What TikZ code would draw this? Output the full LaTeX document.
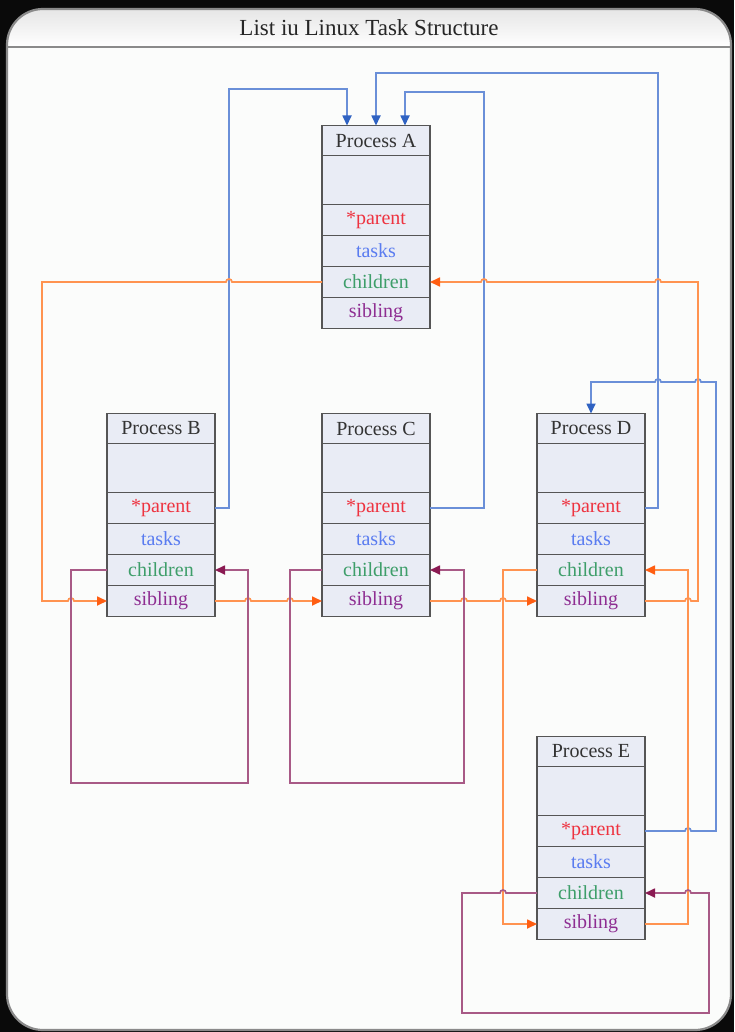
\documentclass[tikz,border=0pt]{standalone}
\usepackage{fontspec}
\setmainfont{Liberation Serif}
\usetikzlibrary{arrows.meta}
\definecolor{bgblack}{HTML}{0A0A0A}
\definecolor{framefill}{HTML}{FBFCFB}
\definecolor{framedraw}{HTML}{8A8A8A}
\definecolor{cellfill}{HTML}{E9ECF5}
\definecolor{celldraw}{HTML}{555555}
\definecolor{cparent}{HTML}{EE3340}
\definecolor{ctasks}{HTML}{5A7CF0}
\definecolor{cchild}{HTML}{3E9E6A}
\definecolor{csib}{HTML}{8E2E92}
\definecolor{lblue}{HTML}{6A8FD8}
\definecolor{ablue}{HTML}{2F62C2}
\definecolor{lorange}{HTML}{FF9350}
\definecolor{aorange}{HTML}{FF5E12}
\definecolor{lpurple}{HTML}{A85A86}
\definecolor{apurple}{HTML}{8A1A52}
\newcommand\procbox[4]{%
  \node[titlecell] (#1) at (#2,#3) {#4};
  \node[blankcell] (#1b) at (#1.south) {};
  \node[cell,text=cparent] (#1p) at (#1b.south) {*parent};
  \node[cell,text=ctasks] (#1t) at (#1p.south) {tasks};
  \node[cell,text=cchild] (#1c) at (#1t.south) {children};
  \node[cell,text=csib] (#1s) at (#1c.south) {sibling};
}
\begin{document}
\begin{tikzpicture}[x=1pt,y=-1pt,
  cell/.style={draw=celldraw,line width=1.8pt,fill=cellfill,minimum width=108pt,
    minimum height=31pt,inner sep=0pt,outer sep=0pt,anchor=north,
    font=\fontsize{20}{21}\selectfont},
  titlecell/.style={cell,minimum height=30pt,text=black!80},
  blankcell/.style={cell,minimum height=49pt},
  bline/.style={draw=lblue,line width=1.7pt,-{Triangle[length=10pt,width=9pt,color=ablue]}},
  oline/.style={draw=lorange,line width=1.7pt,-{Triangle[length=10pt,width=9pt,color=aorange]}},
  pline/.style={draw=lpurple,line width=1.7pt,-{Triangle[length=10pt,width=9pt,color=apurple]}},
]
\useasboundingbox (0,0) rectangle (734,1032);
\fill[bgblack] (0,0) rectangle (734,1032);
\fill[framefill,rounded corners=36pt] (7,9) rectangle (731,1030);
\begin{scope}
  \clip[rounded corners=36pt] (7,9) rectangle (731,1030);
  \shade[top color=black!10,bottom color=white] (7,9) rectangle (731,47);
\end{scope}
\draw[framedraw,line width=2.2pt] (7,47) -- (731,47);
\draw[framedraw,line width=2.2pt,rounded corners=36pt] (7,9) rectangle (731,1030);
\node[font=\fontsize{23}{24}\selectfont,text=black!85] (title) at (369,28) {List iu Linux Task Structure};

\procbox{A}{376}{125.5}{Process A}
\procbox{B}{161}{413.5}{Process B}
\procbox{C}{376}{413.5}{Process C}
\procbox{D}{591}{413.5}{Process D}
\procbox{E}{591}{736.5}{Process E}

% parent pointers
\draw[bline] (Bp.east) -- (229,508) -- (229,89) -- (347,89) -- ([xshift=-29pt]A.north);
\draw[bline] (Cp.east) -- (484,508) -- (484,92) -- (405,92) -- ([xshift=29pt]A.north);
\draw[bline] (Dp.east) -- (658,508) -- (658,73) -- (376,73) -- (A.north);
\draw[bline] (Ep.east) -- (685,831) arc[start angle=180,end angle=0,radius=3pt] -- (716,831)
  -- (716,382) -- (701,382) arc[start angle=0,end angle=180,radius=3pt]
  -- (661,382) arc[start angle=0,end angle=180,radius=3pt] -- (591,382) -- (D.north);

% children / sibling lists
\draw[oline] (Ac.west) -- (232,282) arc[start angle=0,end angle=180,radius=3pt] -- (42,282)
  -- (42,601) -- (68,601) arc[start angle=180,end angle=0,radius=3pt] -- (Bs.west);
\draw[oline] (Bs.east) -- (245,601) arc[start angle=180,end angle=0,radius=3pt]
  -- (287,601) arc[start angle=180,end angle=0,radius=3pt] -- (Cs.west);
\draw[oline] (Cs.east) -- (461,601) arc[start angle=180,end angle=0,radius=3pt]
  -- (500,601) arc[start angle=180,end angle=0,radius=3pt] -- (Ds.west);
\draw[oline] (Ds.east) -- (685,601) arc[start angle=180,end angle=0,radius=3pt] -- (698,601)
  -- (698,282) -- (661,282) arc[start angle=0,end angle=180,radius=3pt]
  -- (487,282) arc[start angle=0,end angle=180,radius=3pt] -- (Ac.east);
\draw[oline] (Dc.west) -- (503,570) -- (503,924) -- (Es.west);
\draw[oline] (Es.east) -- (688,924) -- (688,570) -- (Dc.east);

% empty children lists
\draw[pline] (Bc.west) -- (71,570) -- (71,783) -- (248,783) -- (248,570) -- (Bc.east);
\draw[pline] (Cc.west) -- (290,570) -- (290,783) -- (464,783) -- (464,570) -- (Cc.east);
\draw[pline] (Ec.west) -- (506,893) arc[start angle=0,end angle=180,radius=3pt] -- (462,893)
  -- (462,1013) -- (709,1013) -- (709,893) -- (691,893) arc[start angle=0,end angle=180,radius=3pt]
  -- (Ec.east);
\end{tikzpicture}
\end{document}
